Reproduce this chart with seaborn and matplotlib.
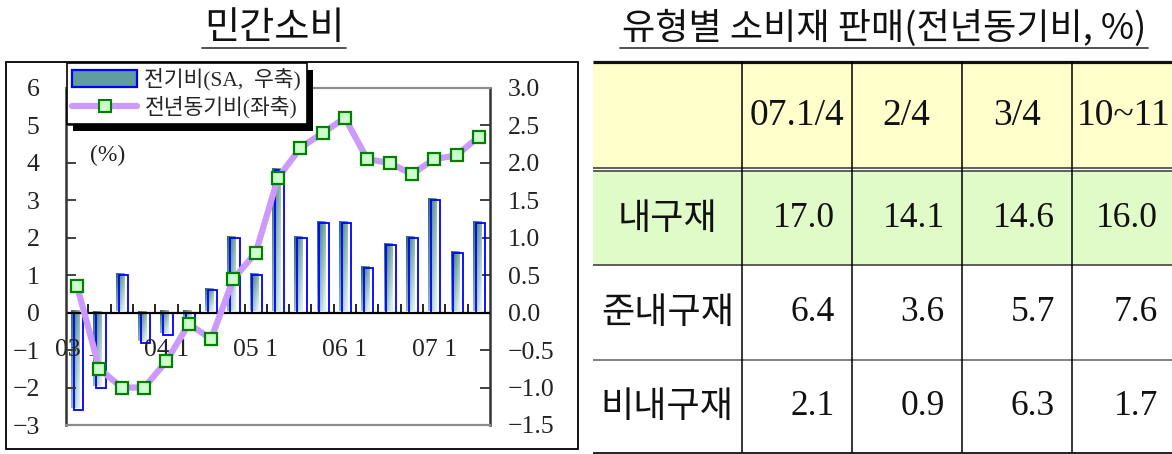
import numpy as np
import pandas as pd
import seaborn as sns
import matplotlib.pyplot as plt
from matplotlib.patches import Patch, Rectangle
from matplotlib.lines import Line2D
from matplotlib.transforms import offset_copy
from matplotlib.ticker import FuncFormatter

# Chart data (민간소비)
quarters = ["03.1", "03.2", "03.3", "03.4", "04.1", "04.2", "04.3", "04.4",
            "05.1", "05.2", "05.3", "05.4", "06.1", "06.2", "06.3", "06.4",
            "07.1", "07.2", "07.3"]
qoq_sa = [-1.3, -1.0, 0.5, -0.4, -0.3, -0.1, 0.3, 1.0, 0.5, 1.9,
          1.0, 1.2, 1.2, 0.6, 0.9, 1.0, 1.5, 0.8, 1.2]
yoy = [0.7, -1.5, -2.0, -2.0, -1.3, -0.3, -0.7, 0.9, 1.6, 3.6,
       4.4, 4.8, 5.2, 4.1, 4.0, 3.7, 4.1, 4.2, 4.7]

# Table data (유형별 소비재 판매)
table_cols = ["07.1/4", "2/4", "3/4", "10~11"]
table_rows = ["내구재", "준내구재", "비내구재"]
durable = [17.0, 14.1, 14.6, 16.0]
semi_durable = [6.4, 3.6, 5.7, 7.6]
non_durable = [2.1, 0.9, 6.3, 1.7]

sns.set_style("white")
plt.rcParams["font.family"] = ["Liberation Serif", "Noto Sans CJK KR"]
plt.rcParams["axes.unicode_minus"] = True
KR = ["Noto Sans CJK KR"]

W, H = 1172, 454


def px_box(x0, y0, x1, y1):
    return [x0 / W, 1 - y1 / H, (x1 - x0) / W, (y1 - y0) / H]


fig = plt.figure(figsize=(W / 100, H / 100), dpi=100)

# overlay in pixel coordinates for frame, titles and table
ov = fig.add_axes([0, 0, 1, 1], zorder=0)
ov.set_xlim(0, W)
ov.set_ylim(H, 0)
ov.axis("off")

df = pd.DataFrame({"quarter": quarters, "pos": np.arange(len(quarters)),
                   "qoq": qoq_sa, "yoy": yoy})
n = len(df)

ax = fig.add_axes(px_box(66, 88, 490, 425))
ax2 = ax.twinx()
ax.set_zorder(2)
ax2.set_zorder(1)
ax.patch.set_visible(False)
ax2.patch.set_visible(False)

# line (left axis)
sns.lineplot(data=df, x="pos", y="yoy", ax=ax, sort=False, color="#CC99FF",
             lw=4.5, marker="s", ms=9, mfc="#CCFFCC", mec="#008000", mew=1.6,
             solid_joinstyle="round", solid_capstyle="round", zorder=3)

# bars (right axis): gradient teal body + blue outline
sns.barplot(data=df, x="pos", y="qoq", ax=ax2, native_scale=True, orient="x",
            width=0.36, color="#4E9090", saturation=1, errorbar=None, linewidth=0)
teal_bars = list(ax2.patches)
sns.barplot(data=df, x="pos", y="qoq", ax=ax2, native_scale=True, orient="x",
            width=0.42, color="#0000FF", fill=False, saturation=1,
            errorbar=None, linewidth=1.3)
blue_bars = list(ax2.patches)[len(teal_bars):]

teal_tr = offset_copy(ax2.transData, fig=fig, x=-2, y=2, units="dots")
blue_tr = offset_copy(ax2.transData, fig=fig, x=1.5, y=0, units="dots")

dark = np.array([0.16, 0.42, 0.43])
light = np.array([0.85, 0.94, 0.94])
v = np.linspace(0, 1, 40)[:, None, None]
h = np.linspace(0, 1, 12)[None, :, None]
grad = dark + (light - dark) * np.clip(0.55 * v + 0.55 * h, 0, 1)

for bar in teal_bars:
    x0, w = bar.get_x(), bar.get_width()
    y0, hh = bar.get_y(), bar.get_height()
    lo, hi = min(y0, y0 + hh), max(y0, y0 + hh)
    im = ax2.imshow(grad, extent=(x0, x0 + w, lo, hi), origin="upper",
                    aspect="auto", interpolation="bilinear", zorder=2)
    im.set_transform(teal_tr)
    bar.set_visible(False)
for bar in blue_bars:
    bar.set_transform(blue_tr)
    bar.set_zorder(3)

# axes setup
ax.set_xlim(-0.5, n - 0.5)
ax.set_ylim(-3, 6)
ax2.set_ylim(-1.5, 3)
ax.set_yticks(range(-3, 7))
ax2.set_yticks(np.arange(-1.5, 3.01, 0.5))
ax.yaxis.set_major_formatter(FuncFormatter(lambda val, p: f"{val:.0f}".replace("-", "\u2212")))
ax2.yaxis.set_major_formatter(FuncFormatter(lambda val, p: f"{val:.1f}".replace("-", "\u2212")))
ax.set_xticks([])
for a in (ax, ax2):
    a.set_xlabel("")
    a.set_ylabel("")
    a.tick_params(axis="x", bottom=False, labelbottom=False)
ax.tick_params(axis="y", direction="in", length=7, width=1.3, color="#333333",
               labelsize=18.5, labelcolor="#222222", pad=19)
ax2.tick_params(axis="y", direction="in", length=7, width=1.3, color="#333333",
                labelsize=18.5, labelcolor="#222222", pad=13)

for s in ["top", "bottom"]:
    ax.spines[s].set_color("#8c8c8c")
    ax.spines[s].set_linewidth(1.6)
ax.spines["left"].set_color("#333333")
ax.spines["left"].set_linewidth(1.8)
ax.spines["right"].set_visible(False)
for s in ["left", "top", "bottom"]:
    ax2.spines[s].set_visible(False)
ax2.spines["right"].set_color("#333333")
ax2.spines["right"].set_linewidth(1.8)

# zero line with category ticks
ax.axhline(0, color="black", lw=1.6, zorder=1)
ax.vlines(np.arange(n - 1) + 0.5, 0, 0.22, color="black", lw=1.2, zorder=1)

for i, q in enumerate(quarters):
    if q.endswith(".1"):
        ax.text(i, -1.0, q.replace(".", " "), ha="center", va="center",
                fontsize=18.5, color="#222222", zorder=1)

ax.text(0.097, 0.80, "(%)", transform=ax.transAxes, ha="center", va="center",
        fontsize=17, color="#222222")

# legend with black drop shadow
bar_handle = (Patch(facecolor="#5E9E9E", edgecolor="none"),
              Patch(facecolor="none", edgecolor="#0000FF", lw=1.6))
line_handle = Line2D([], [], color="#CC99FF", lw=4.5, marker="s", ms=9,
                     mfc="#CCFFCC", mec="#008000", mew=1.5)
leg = fig.legend([bar_handle, line_handle], ["전기비(SA,  우축)", "전년동기비(좌축)"],
                 loc="upper left", bbox_to_anchor=(67 / W, 1 - 63 / H),
                 frameon=True, fancybox=False, edgecolor="black", framealpha=1,
                 fontsize=15.5, borderpad=0.25, labelspacing=0.25,
                 handlelength=3.0, handleheight=0.85, handletextpad=0.35,
                 borderaxespad=0)
leg.get_frame().set_linewidth(1.2)
leg.set_zorder(5)

# chart frame
ov.add_patch(Rectangle((6, 62), 572, 387, fill=False, edgecolor="black", lw=1.3))

# titles
t1 = ov.text(274, 28, "민간소비", ha="center", va="center", fontsize=27.5,
             family=KR, color="#111111")
t2 = ov.text(884, 28, "유형별 소비재 판매(전년동기비, %)", ha="center",
             va="center", fontsize=26, family=KR, color="#111111")

# table
col_edges = [593, 741.7, 851.7, 961.7, 1071.7, 1175]
row_mid = [218.5, 312.5, 406.5]
ov.add_patch(Rectangle((593, 62), 1180 - 593, 168.3 - 62, facecolor="#FFFFCC", edgecolor="none"))
ov.add_patch(Rectangle((593, 171.8), 1180 - 593, 265 - 171.8, facecolor="#E0FAC8", edgecolor="none"))
ov.hlines(61.5, 593, W, color="#111111", lw=2.3)
ov.hlines([168.3, 171.3], 593, W, color="#333333", lw=1.1)
ov.hlines(265, 593, W, color="#333333", lw=1.1)
ov.hlines(360, 593, W, color="#777777", lw=1.3)
ov.hlines(453, 593, W, color="#111111", lw=1.3)
ov.vlines(col_edges[1:5], 61, 453, color="black", lw=1.1)

for j, c in enumerate(table_cols):
    ov.text((col_edges[j + 1] + col_edges[j + 2]) / 2, 116, c, ha="center",
            va="center", fontsize=27, color="#111111")
for r, (name, vals) in enumerate(zip(table_rows, [durable, semi_durable, non_durable])):
    ov.text((col_edges[0] + col_edges[1]) / 2, row_mid[r], name, ha="center",
            va="center", fontsize=26, family=KR, color="#111111")
    for j, val in enumerate(vals):
        ov.text(col_edges[j + 2] - 17, row_mid[r], f"{val:.1f}", ha="right",
                va="center", fontsize=25.5, color="#111111")

# underlines and legend shadow need rendered extents
fig.canvas.draw()
renderer = fig.canvas.get_renderer()
inv = ov.transData.inverted()
for t in (t1, t2):
    bb = t.get_window_extent(renderer)
    (x0, _), (x1, _) = inv.transform([[bb.x0, bb.y0], [bb.x1, bb.y0]])
    ov.plot([x0 - 2, x1 + 2], [47.5, 47.5], color="#444444", lw=1.3)

lb = leg.get_window_extent(renderer).transformed(fig.transFigure.inverted())
fig.add_artist(Rectangle((lb.x0 + 6 / W, lb.y0 - 7 / H), lb.width, lb.height,
                         transform=fig.transFigure, facecolor="black",
                         edgecolor="none", zorder=4))

fig.savefig("out.png", dpi=100)
